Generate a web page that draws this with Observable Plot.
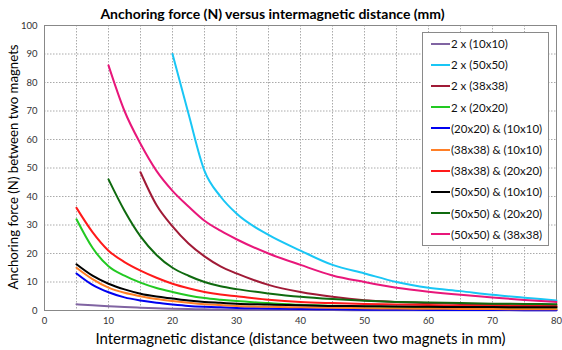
<!DOCTYPE html>
<html><head><meta charset="utf-8">
<script src="https://cdn.jsdelivr.net/npm/d3@7"></script>
<script src="https://cdn.jsdelivr.net/npm/@observablehq/plot@0.6"></script>
<style>
body{margin:0;background:#fff;font-family:Lato,"Open Sans",sans-serif}
#wrap{position:relative;width:562px;height:350px}
#legend{position:absolute;left:422px;top:32px;width:127px;height:214px;border:1px solid #8a8a8a;background:#fff;box-sizing:border-box;font-family:Lato,sans-serif;font-size:11.5px;color:#111}
.row{height:21.2px;display:flex;align-items:center;padding-left:8px}
.sw{width:19px;height:2px;margin-right:1px}
#ylab{position:absolute;left:14px;top:167px;white-space:nowrap;font-family:Lato,sans-serif;font-size:13.2px;color:#000;transform:translate(-50%,-50%) rotate(-90deg);line-height:1}
</style></head>
<body><div id="wrap"><div id="legend"></div><div id="ylab">Anchoring force (N) between two magnets</div></div>
<script>
const distances = [5,7.5,10,12.5,15,17.5,20,22.5,25,27.5,30,35,40,45,50,55,60,65,70,75,80];
const seriesNames = ["2 x (10x10)","2 x (50x50)","2 x (38x38)","2 x (20x20)","(20x20) & (10x10)","(38x38) & (10x10)","(38x38) & (20x20)","(50x50) & (10x10)","(50x50) & (20x20)","(50x50) & (38x38)"];
const seriesColors = ["#8064A2","#19C6F5","#A01A36","#22C922","#0000F0","#FF7F27","#FF1A1A","#000000","#0F6A0F","#E8177A"];
const v2x10   = [2.2,1.8,1.5,1.2,1,0.8,0.6,0.5,0.4,0.35,0.3,0.25,0.2,0.15,0.1,0.1,0.1,0.1,0.1,0.1,0.1];
const v2x50   = [null,null,null,null,null,null,90,69,49,40,34,26.5,21,16,13,10,8,6.8,5.5,4.5,3.5];
const v2x38   = [null,null,null,null,48.5,37,29.5,23.5,19,15.5,13,9,6.5,4.8,3.6,3,2.6,2.3,2,1.8,1.6];
const v2x20   = [32,22,15.5,12.2,9.8,7.9,6.5,5.3,4.4,3.8,3.3,2.6,2,1.7,1.4,1.2,1.1,1,0.9,0.85,0.8];
const v20_10  = [13,9,6.4,4.6,3.5,2.7,2.1,1.6,1.3,1.1,0.9,0.7,0.5,0.4,0.3,0.25,0.2,0.18,0.15,0.12,0.1];
const v38_10  = [15,11,8,6.2,5,4,3.3,2.7,2.2,1.9,1.6,1.3,1.1,0.95,0.8,0.7,0.6,0.55,0.5,0.45,0.4];
const v38_20  = [36,27.5,21,17,14,11.5,9.4,7.8,6.5,5.6,5,3.8,3,2.6,2.3,2.1,1.9,1.7,1.6,1.5,1.4];
const v50_10  = [16.2,12.2,9.4,7.4,5.9,4.9,4.2,3.5,3,2.7,2.4,2.1,1.8,1.6,1.5,1.4,1.3,1.25,1.2,1.15,1.1];
const v50_20  = [null,null,46,35,26,19.5,15,12.2,10,8.5,7.5,6,4.8,4,3.4,3,2.8,2.6,2.4,2.3,2.2];
const v50_38  = [null,null,86,70,58.5,49,42,36.5,31.5,28,25,20,16,12.3,10,8,6.6,5.5,4.6,3.7,3];
const xTicks = [0,10,20,30,40,50,60,70,80];
const yTicks = [0,10,20,30,40,50,60,70,80,90,100];

const allValues = [v2x10,v2x50,v2x38,v2x20,v20_10,v38_10,v38_20,v50_10,v50_20,v50_38];
const table = [];
allValues.forEach((vals,i)=>vals.forEach((v,j)=>{ if(v!=null) table.push({series:seriesNames[i],d:distances[j],f:v}); }));

const chart = Plot.plot({
  width:562,height:350,marginLeft:44,marginRight:6,marginTop:25,marginBottom:40,
  style:{fontFamily:"Lato, sans-serif",background:"#fff"},
  x:{domain:[0,80]},
  y:{domain:[0,100]},
  color:{domain:seriesNames,range:seriesColors},
  marks:[
    Plot.gridX(d3.range(0,81,5),{stroke:"#aaa",strokeOpacity:1,strokeDasharray:"1.5,1.5"}),
    Plot.gridY(yTicks,{stroke:"#aaa",strokeOpacity:1,strokeDasharray:"1.5,1.5"}),
    Plot.frame({stroke:"#888"}),
    Plot.axisX({ticks:xTicks,tickSize:0,tickPadding:7,fontSize:9.5,fill:"#333",label:"Intermagnetic distance (distance between two magnets in mm)",labelAnchor:"center",labelArrow:"none",labelOffset:33}),
    Plot.axisY({ticks:yTicks,tickSize:0,tickPadding:7,fontSize:9.5,fill:"#333",label:null}),
    Plot.line(table,{x:"d",y:"f",z:"series",stroke:"series",curve:"monotone-x",strokeWidth:2}),
    Plot.text(["Anchoring force (N) versus intermagnetic distance (mm)"],{frameAnchor:"top",dy:-16,dx:-28,fontSize:14,fontWeight:"bold",fill:"#000",lineWidth:100})
  ]
});
chart.querySelectorAll("g[aria-label='x-axis label'] text").forEach(t=>{t.setAttribute("font-size","15");t.setAttribute("fill","#000");});
document.getElementById("wrap").prepend(chart);
const leg = document.getElementById("legend");
seriesNames.forEach((n,i)=>{
  const r=document.createElement("div");r.className="row";
  const s=document.createElement("div");s.className="sw";s.style.background=seriesColors[i];
  const t=document.createElement("span");t.textContent=n;
  r.append(s,t);leg.append(r);
});
</script></body></html>
